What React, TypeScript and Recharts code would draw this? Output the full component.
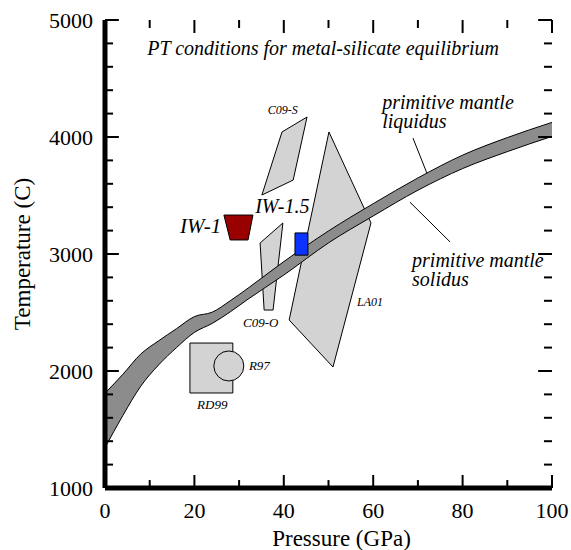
import { Area, ComposedChart, Label, ReferenceDot, ReferenceLine, Scatter, XAxis, YAxis } from "recharts"

// primitive mantle melting band
const pressure = [0, 4, 8, 12, 16, 20, 24, 28, 32, 40, 50, 60, 70, 80, 90, 100]
const liquidus = [1810, 1972, 2145, 2258, 2362, 2465, 2503, 2600, 2708, 2935, 3197, 3430, 3650, 3845, 3995, 4125]
const solidus = [1345, 1620, 1870, 2052, 2200, 2330, 2407, 2505, 2614, 2820, 3095, 3325, 3545, 3730, 3875, 4005]

// study fields (P in GPa, T in C)
const c09S = [{ p: 35.1, t: 3504 }, { p: 39.6, t: 4043 }, { p: 45.2, t: 4171 }, { p: 42.1, t: 3632 }]
const c09O = [{ p: 34.7, t: 3094 }, { p: 39.8, t: 3265 }, { p: 37.6, t: 2521 }, { p: 35.6, t: 2521 }]
const la01 = [{ p: 50.1, t: 4043 }, { p: 59.5, t: 3265 }, { p: 51.0, t: 2034 }, { p: 41.2, t: 2436 }]
const rd99 = [{ p: 19.0, t: 2239 }, { p: 28.6, t: 2239 }, { p: 28.6, t: 1812 }, { p: 19.0, t: 1812 }]
const r97 = [{ p: 27.7, t: 2043 }]
const iw1 = [{ p: 26.6, t: 3333 }, { p: 33.1, t: 3333 }, { p: 32.0, t: 3120 }, { p: 28.0, t: 3120 }]
const iw15 = [{ p: 42.5, t: 3180 }, { p: 45.4, t: 3180 }, { p: 45.4, t: 2990 }, { p: 42.5, t: 2990 }]

const xTicks = [0, 10, 20, 30, 40, 50, 60, 70, 80, 90, 100]
const yTicks = [1000, 1200, 1400, 1600, 1800, 2000, 2200, 2400, 2600, 2800, 3000, 3200, 3400, 3600, 3800, 4000, 4200, 4400, 4600, 4800, 5000]

const bandData = pressure.map((p, i) => ({ p, band: [solidus[i], liquidus[i]] }))

const serif = "'Liberation Serif', 'Times New Roman', serif"
const lightGray = "#d3d3d3"

// inward tick lengths, in axis units (about 13px / 8px)
const xTickLen = (v: number) => (v % 20 === 0 ? 111 : 68)
const yTickLen = (v: number) => (v % 1000 === 0 ? 3.1 : 1.8)

const BottomTick = ({ x, y, payload }: any) =>
  payload.value % 20 === 0 ? (
    <text x={x} y={y + 30} textAnchor="middle" fontSize={22} fontFamily={serif} fill="#000">
      {payload.value}
    </text>
  ) : (
    <g />
  )

const LeftTick = ({ x, y, payload }: any) =>
  payload.value % 1000 === 0 ? (
    <text x={x - 12} y={y + 8} textAnchor="end" fontSize={22} fontFamily={serif} fill="#000">
      {payload.value}
    </text>
  ) : (
    <g />
  )

const noPoint = () => <g />

const note = (lines: string[], size: number, anchor = "start", lineGap = 19) => (props: any) => (
  <g>
    {lines.map((l, i) => (
      <text
        key={i}
        x={props.cx}
        y={props.cy + i * lineGap}
        textAnchor={anchor}
        fontSize={size}
        fontStyle="italic"
        fontFamily={serif}
        fill="#000"
      >
        {l}
      </text>
    ))}
  </g>
)

const tickStroke = { stroke: "#000", strokeWidth: 2, ifOverflow: "visible" as const }

export default function App() {
  return (
    <div style={{ width: 571, height: 550, background: "#fff" }}>
      <style>{"body{margin:0}"}</style>
      <ComposedChart width={571} height={550} data={bandData} margin={{ top: 20, right: 19, bottom: 0, left: 0 }}>
        <XAxis
          dataKey="p"
          type="number"
          domain={[0, 100]}
          ticks={xTicks}
          interval={0}
          height={62}
          tickSize={0}
          tickMargin={0}
          tickLine={false}
          axisLine={{ stroke: "#000", strokeWidth: 5 }}
          tick={<BottomTick />}
        >
          <Label
            content={({ viewBox }: any) => (
              <text
                x={viewBox.x + viewBox.width / 2 + 13}
                y={viewBox.y + viewBox.height - 4}
                textAnchor="middle"
                fontSize={23}
                fontFamily={serif}
                fill="#000"
              >
                Pressure (GPa)
              </text>
            )}
          />
        </XAxis>
        <XAxis
          xAxisId="top"
          orientation="top"
          dataKey="p"
          type="number"
          domain={[0, 100]}
          height={0}
          tick={false}
          tickLine={false}
          axisLine={{ stroke: "#000", strokeWidth: 5 }}
        />
        <YAxis
          type="number"
          domain={[1000, 5000]}
          ticks={yTicks}
          interval={0}
          width={105}
          tickSize={0}
          tickMargin={0}
          tickLine={false}
          axisLine={{ stroke: "#000", strokeWidth: 5 }}
          tick={<LeftTick />}
        >
          <Label
            content={({ viewBox }: any) => {
              const cx = 22
              const cy = viewBox.y + viewBox.height / 2
              return (
                <text
                  x={cx}
                  y={cy}
                  transform={`rotate(-90 ${cx} ${cy})`}
                  textAnchor="middle"
                  dominantBaseline="central"
                  fontSize={23}
                  fontFamily={serif}
                  fill="#000"
                >
                  Temperature (C)
                </text>
              )
            }}
          />
        </YAxis>
        <YAxis
          yAxisId="right"
          orientation="right"
          type="number"
          domain={[1000, 5000]}
          width={0}
          tick={false}
          tickLine={false}
          axisLine={{ stroke: "#000", strokeWidth: 5 }}
        />

        <Scatter data={c09S} dataKey="t" zIndex={50} shape={noPoint} line={{ fill: lightGray, stroke: "#000", strokeWidth: 1 }} lineJointType="linearClosed" isAnimationActive={false} />
        <Scatter data={c09O} dataKey="t" zIndex={50} shape={noPoint} line={{ fill: lightGray, stroke: "#000", strokeWidth: 1 }} lineJointType="linearClosed" isAnimationActive={false} />
        <Scatter data={la01} dataKey="t" zIndex={50} shape={noPoint} line={{ fill: lightGray, stroke: "#000", strokeWidth: 1 }} lineJointType="linearClosed" isAnimationActive={false} />

        <Area
          dataKey="band"
          type="monotone"
          fill="#8c8c8c"
          fillOpacity={1}
          stroke="#000"
          strokeWidth={1}
          isAnimationActive={false}
        />

        <Scatter data={rd99} dataKey="t" shape={noPoint} line={{ fill: lightGray, stroke: "#000", strokeWidth: 1 }} lineJointType="linearClosed" isAnimationActive={false} />
        <Scatter
          data={r97}
          dataKey="t"
          shape={(p: any) => <circle cx={p.cx} cy={p.cy} r={15} fill={lightGray} stroke="#000" strokeWidth={1} />}
          isAnimationActive={false}
        />
        <Scatter data={iw1} dataKey="t" shape={noPoint} line={{ fill: "#990000", stroke: "#000", strokeWidth: 1 }} lineJointType="linearClosed" isAnimationActive={false} />
        <Scatter data={iw15} dataKey="t" shape={noPoint} line={{ fill: "#0a33ff", stroke: "#000", strokeWidth: 1 }} lineJointType="linearClosed" isAnimationActive={false} />

        {/* frame ticks, pointing inward on all four sides */}
        {xTicks.map((v) => (
          <ReferenceLine key={`b${v}`} segment={[{ x: v, y: 1000 }, { x: v, y: 1000 + xTickLen(v) }]} {...tickStroke} />
        ))}
        {xTicks.map((v) => (
          <ReferenceLine key={`t${v}`} segment={[{ x: v, y: 5000 }, { x: v, y: 5000 - xTickLen(v) }]} {...tickStroke} />
        ))}
        {yTicks.map((v) => (
          <ReferenceLine key={`l${v}`} segment={[{ x: 0, y: v }, { x: yTickLen(v), y: v }]} {...tickStroke} />
        ))}
        {yTicks.map((v) => (
          <ReferenceLine key={`r${v}`} segment={[{ x: 100, y: v }, { x: 100 - yTickLen(v), y: v }]} {...tickStroke} />
        ))}

        <ReferenceLine segment={[{ x: 68.9, y: 3991 }, { x: 72.0, y: 3692 }]} stroke="#000" strokeWidth={1} />
        <ReferenceLine segment={[{ x: 68.2, y: 3444 }, { x: 77.2, y: 3103 }]} stroke="#000" strokeWidth={1} />

        <ReferenceDot x={48.8} y={4701} shape={note(["PT conditions for metal-silicate equilibrium"], 20, "middle")} />
        <ReferenceDot x={62.0} y={4240} shape={note(["primitive mantle", "liquidus"], 20)} />
        <ReferenceDot x={68.7} y={2889} shape={note(["primitive mantle", "solidus"], 20)} />
        <ReferenceDot x={16.8} y={3180} shape={note(["IW-1"], 21)} />
        <ReferenceDot x={33.6} y={3350} shape={note(["IW-1.5"], 20)} />
        <ReferenceDot x={36.4} y={4196} shape={note(["C09-S"], 12)} />
        <ReferenceDot x={30.9} y={2376} shape={note(["C09-O"], 13)} />
        <ReferenceDot x={32.2} y={2009} shape={note(["R97"], 13)} />
        <ReferenceDot x={20.6} y={1675} shape={note(["RD99"], 13)} />
        <ReferenceDot x={56.4} y={2556} shape={note(["LA01"], 12)} />
      </ComposedChart>
    </div>
  )
}
